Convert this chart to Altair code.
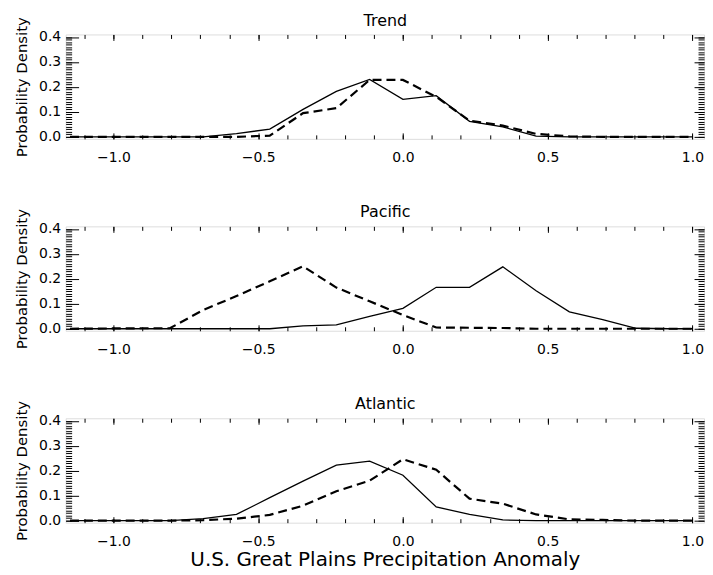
import altair as alt
import pandas as pd

FONT = "DejaVu Sans"

panel_titles = ["Trend", "Pacific", "Atlantic"]
x_title = "U.S. Great Plains Precipitation Anomaly"
y_title = "Probability Density"

anomaly = [-1.15, -0.92, -0.805, -0.69, -0.575, -0.46, -0.345, -0.23, -0.115, 0.0,
           0.115, 0.23, 0.345, 0.46, 0.575, 0.69, 0.805, 0.92, 1.0]

trend_solid = [0, 0, 0, 0, 0.013, 0.031, 0.11, 0.182, 0.23, 0.15,
               0.165, 0.062, 0.04, 0.003, 0, 0, 0, 0, 0]
trend_dashed = [0, 0, 0, 0, 0, 0.005, 0.095, 0.115, 0.228, 0.228,
                0.16, 0.065, 0.045, 0.012, 0.002, 0, 0, 0, 0]

pacific_solid = [0, 0, 0, 0, 0, 0, 0.012, 0.016, 0.05, 0.082,
                 0.166, 0.166, 0.248, 0.152, 0.068, 0.037, 0.002, 0, 0]
pacific_dashed = [0, 0.002, 0.002, 0.075, 0.131, 0.19, 0.25, 0.165, 0.11, 0.055,
                  0.005, 0.004, 0.003, 0, 0, 0, 0, 0, 0]

atlantic_solid = [0, 0, 0, 0.008, 0.025, 0.092, 0.158, 0.222, 0.238, 0.182,
                  0.055, 0.025, 0.003, 0, 0, 0, 0, 0, 0]
atlantic_dashed = [0, 0, 0, 0.002, 0.008, 0.023, 0.06, 0.118, 0.16, 0.246,
                   0.204, 0.088, 0.068, 0.025, 0.005, 0.003, 0, 0, 0]

x_major = [-1.0, -0.5, 0.0, 0.5, 1.0]
x_minor = [-1.1, -1.0, -0.9, -0.8, -0.7, -0.6, -0.5, -0.4, -0.3, -0.2, -0.1, 0.0,
           0.1, 0.2, 0.3, 0.4, 0.5, 0.6, 0.7, 0.8, 0.9, 1.0]
y_major = [0.0, 0.1, 0.2, 0.3, 0.4]
y_minor = [i / 100 for i in range(0, 41)]

X_DOMAIN = [-1.165, 1.04]
Y_DOMAIN = [-0.008, 0.41]

W, H = 642, 105


def ax(orient, values, size, labels=False, title=None):
    kw = dict(orient=orient, values=values, tickSize=size, offset=-size,
              tickColor="black", tickWidth=1, domain=False, grid=False,
              labels=labels, title=title)
    if labels:
        kw.update(format=".1f", labelFont=FONT, labelFontSize=14,
                  labelColor="black", labelFlush=False)
        kw["labelPadding"] = 12 if orient == "bottom" else 5
    if title:
        kw.update(titleFont=FONT, titleColor="black", titleFontWeight="normal")
        if orient == "bottom":
            kw.update(titleFontSize=20, titlePadding=1)
        elif orient == "top":
            kw.update(titleFontSize=16, titlePadding=6)
        else:
            kw.update(titleFontSize=15, titlePadding=9)
    return alt.Axis(**kw)


def panel(title, solid, dashed, show_xtitle):
    df = pd.DataFrame({"x": anomaly, "solid": solid, "dashed": dashed})
    xs = alt.Scale(domain=X_DOMAIN, nice=False, zero=False)
    ys = alt.Scale(domain=Y_DOMAIN, nice=False, zero=False)
    base = alt.Chart(df)
    l1 = base.mark_line(color="black", strokeWidth=1.3).encode(
        x=alt.X("x:Q", scale=xs,
                axis=ax("bottom", x_major, 6, labels=True,
                        title=x_title if show_xtitle else None)),
        y=alt.Y("solid:Q", scale=ys,
                axis=ax("left", y_major, 13, labels=True, title=y_title)),
    )
    l2 = base.mark_line(color="black", strokeWidth=2.2, strokeDash=[9, 5]).encode(
        x=alt.X("x:Q", scale=xs, axis=ax("bottom", x_minor, 4)),
        y=alt.Y("dashed:Q", scale=ys, axis=ax("left", y_minor, 6)),
    )
    l3 = base.mark_line(opacity=0).encode(
        x=alt.X("x:Q", scale=xs, axis=ax("top", x_major, 6, title=title)),
        y=alt.Y("solid:Q", scale=ys, axis=ax("right", y_major, 10)),
    )
    l4 = base.mark_line(opacity=0).encode(
        x=alt.X("x:Q", scale=xs, axis=ax("top", x_minor, 4)),
        y=alt.Y("solid:Q", scale=ys, axis=ax("right", y_minor, 6)),
    )
    return alt.layer(l1, l2, l3, l4).resolve_axis(
        x="independent", y="independent"
    ).properties(width=W, height=H)


chart = alt.vconcat(
    panel(panel_titles[0], trend_solid, trend_dashed, False),
    panel(panel_titles[1], pacific_solid, pacific_dashed, False),
    panel(panel_titles[2], atlantic_solid, atlantic_dashed, True),
    spacing=38,
).properties(
    padding={"left": 6, "right": 0, "top": 2, "bottom": 0},
).configure_view(
    stroke="black", strokeWidth=1.5
).configure(background="white")

chart.save("out.html", embed_options={"renderer": "svg", "actions": False})
